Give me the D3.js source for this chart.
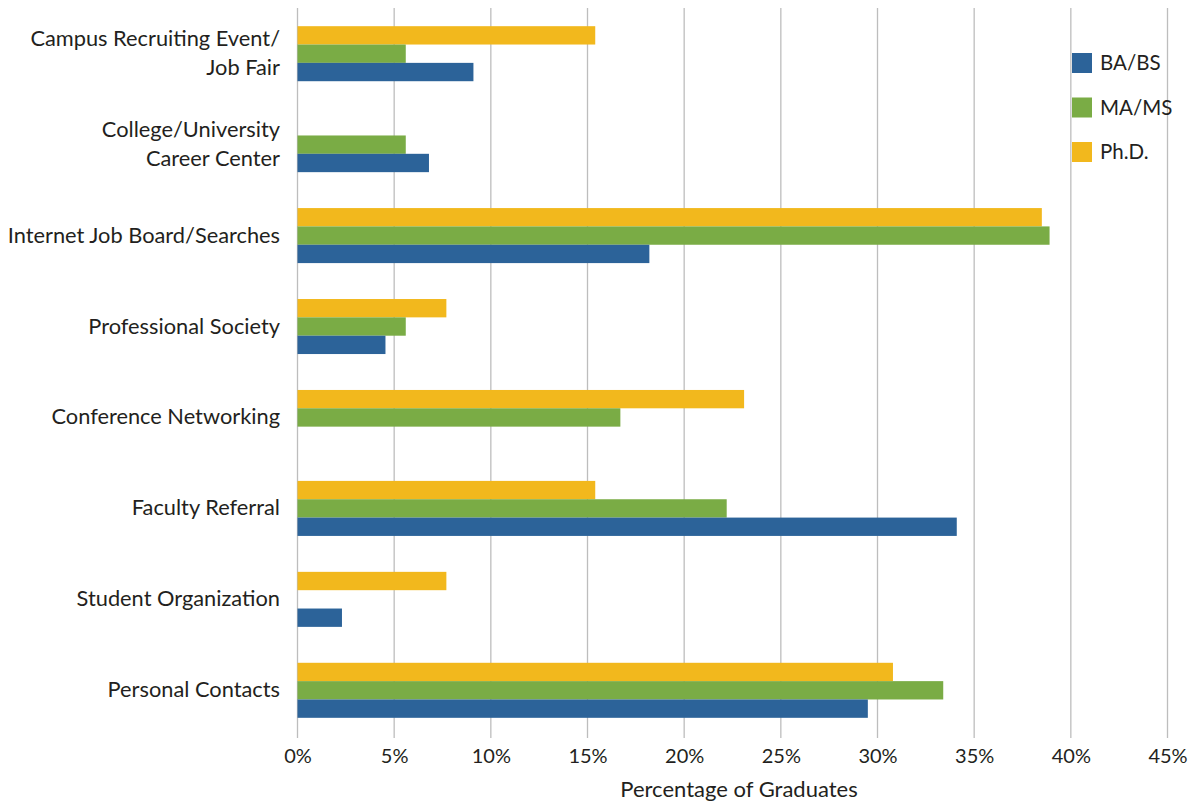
<!DOCTYPE html>
<html><head><meta charset="utf-8">
<script src="https://cdn.jsdelivr.net/npm/d3@7"></script>
<style>body{margin:0;background:#fff}svg{display:block}text{font-family:Lato,"Open Sans",sans-serif;fill:#231f20}</style>
</head><body><svg id="c" width="1202" height="804"></svg>
<script>
const categories = ["Campus Recruiting Event/\nJob Fair","College/University\nCareer Center","Internet Job Board/Searches","Professional Society","Conference Networking","Faculty Referral","Student Organization","Personal Contacts"];
const seriesNames = ["Ph.D.","MA/MS","BA/BS"];
const phd  = [15.4, 0, 38.5, 7.7, 23.1, 15.4, 7.7, 30.8];
const mams = [5.6, 5.6, 38.9, 5.6, 16.7, 22.2, 0, 33.4];
const babs = [9.1, 6.8, 18.2, 4.55, 0, 34.1, 2.3, 29.5];
const colors = {"BA/BS":"#2c6399","MA/MS":"#7aac45","Ph.D.":"#f2b81d"};
const xTicks = [0,5,10,15,20,25,30,35,40,45];
const legendOrder = ["BA/BS","MA/MS","Ph.D."];
const values = {"Ph.D.":phd,"MA/MS":mams,"BA/BS":babs};

const svg = d3.select("#c");
const x = d3.scaleLinear().domain([0,45]).range([297.5,1167.5]);
const y = d3.scaleBand().domain(categories).range([8,736]).paddingInner(0.395).paddingOuter(0.2);
const ys = d3.scaleBand().domain(seriesNames).range([0,y.bandwidth()]);

// gridlines
svg.append("g").selectAll("line").data(xTicks).join("line")
  .attr("x1",d=>x(d)).attr("x2",d=>x(d)).attr("y1",8).attr("y2",738)
  .attr("stroke","#bdbdbd").attr("stroke-width",1.3);

// bars
const g = svg.append("g");
categories.forEach((c,i)=>{
  seriesNames.forEach(s=>{
    const v = values[s][i];
    if(!v) return;
    g.append("rect").attr("x",x(0)).attr("y",y(c)+ys(s))
      .attr("width",x(v)-x(0)).attr("height",ys.bandwidth())
      .attr("fill",colors[s]);
  });
});

// x axis
const xa = svg.append("g").attr("transform","translate(0,738)")
  .call(d3.axisBottom(x).tickValues(xTicks).tickFormat(d=>d+"%").tickSize(0).tickPadding(11));
xa.select(".domain").remove();
xa.selectAll("text").attr("font-size",20).attr("font-family","Lato,sans-serif").attr("fill","#231f20");

svg.append("text").attr("x",739).attr("y",797).attr("text-anchor","middle")
  .attr("font-size",22).text("Percentage of Graduates");

// y labels
categories.forEach(c=>{
  const lines = c.split("\n");
  const cy = y(c)+y.bandwidth()/2;
  const t = svg.append("text").attr("x",280).attr("text-anchor","end").attr("font-size",21.8);
  lines.forEach((l,j)=>{
    t.append("tspan").attr("x",280).attr("y",cy+7+(j-(lines.length-1)/2)*29).text(l);
  });
});

// legend
legendOrder.forEach((s,i)=>{
  const ly = 53 + i*44.5;
  svg.append("rect").attr("x",1072).attr("y",ly).attr("width",20).attr("height",20).attr("fill",colors[s]);
  svg.append("text").attr("x",1100).attr("y",ly+17).attr("font-size",20.5).text(s);
});
</script></body></html>
